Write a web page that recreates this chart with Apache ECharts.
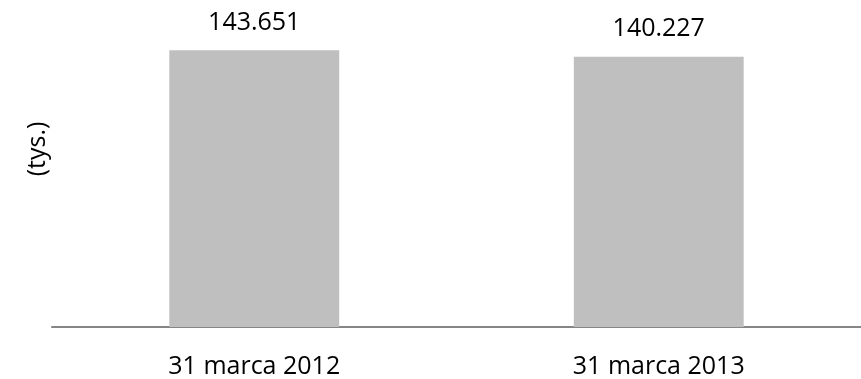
<!DOCTYPE html>
<html>
<head>
<meta charset="utf-8">
<script src="https://cdn.jsdelivr.net/npm/echarts@6/dist/echarts.min.js"></script>
<style>html,body{margin:0;padding:0;background:#fff}#c{width:861px;height:379px}</style>
</head>
<body>
<div id="c"></div>
<script>
var categories = ['31 marca 2012', '31 marca 2013'];
var values = [143.651, 140.227];
var axisName = '(tys.)';

var chart = echarts.init(document.getElementById('c'), null, {renderer: 'canvas'});
var FONT = '"Open Sans", sans-serif';
chart.setOption({
  animation: false,
  backgroundColor: '#ffffff',
  grid: {left: 52, right: 0, top: 38, bottom: 51, containLabel: false},
  xAxis: {
    type: 'category',
    data: categories,
    axisLine: {show: true, lineStyle: {color: '#868686', width: 2}},
    axisTick: {show: false},
    axisLabel: {color: '#000', fontFamily: FONT, fontSize: 25, margin: 27}
  },
  yAxis: {
    type: 'value',
    min: 0,
    max: 150,
    show: false
  },
  graphic: [{
    type: 'text',
    x: 38,
    y: 149,
    rotation: Math.PI / 2,
    style: {
      text: axisName,
      font: '25px "Open Sans", sans-serif',
      fill: '#000',
      align: 'center',
      verticalAlign: 'middle'
    }
  }],
  series: [{
    type: 'bar',
    data: values,
    barWidth: '42%',
    itemStyle: {color: '#BFBFBF'},
    label: {
      show: true,
      position: 'top',
      distance: 15,
      color: '#000',
      fontFamily: FONT,
      fontSize: 25,
      formatter: function (p) { return p.value.toFixed(3); }
    }
  }]
});
</script>
</body>
</html>
